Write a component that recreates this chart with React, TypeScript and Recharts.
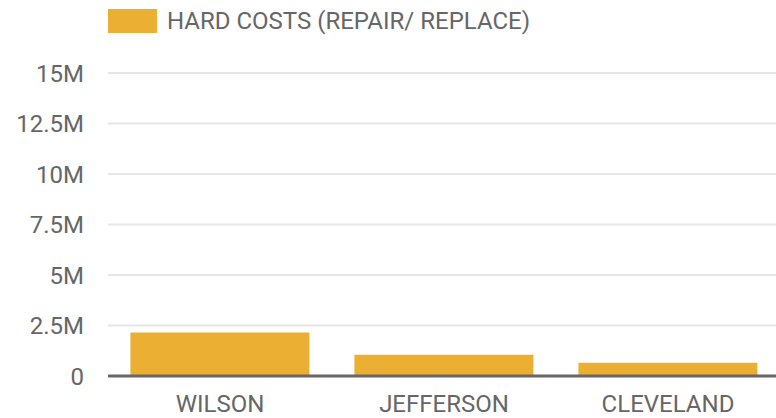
import React from 'react';
import { BarChart, Bar, XAxis, YAxis, CartesianGrid, Legend } from 'recharts';

const categories = ['WILSON', 'JEFFERSON', 'CLEVELAND'];
const hardCosts = [2150000, 1050000, 650000];
const yTicks = [0, 2500000, 5000000, 7500000, 10000000, 12500000, 15000000];
const seriesName = 'HARD COSTS (REPAIR/ REPLACE)';

const data = categories.map((name, i) => ({ name, hard: hardCosts[i] }));

const fmt = (v: number) => (v === 0 ? '0' : `${v / 1000000}M`);

const LegendBox = () => (
  <div style={{ display: 'flex', alignItems: 'center', height: 45, paddingLeft: 108, boxSizing: 'border-box' }}>
    <div style={{ width: 49, height: 24, background: '#EBB033', marginRight: 10, marginTop: -3 }} />
    <span style={{ fontFamily: 'Roboto', fontSize: 24, color: '#666', marginTop: -3 }}>{seriesName}</span>
  </div>
);

export default function App() {
  return (
    <div style={{ position: 'fixed', top: 0, left: 0, width: 776, height: 418, overflow: 'hidden', background: '#fff' }}>
      <BarChart
        width={800}
        height={418}
        data={data}
        margin={{ top: 28, right: 20, bottom: 12, left: 0 }}
        barCategoryGap="10%"
      >
        <Legend verticalAlign="top" align="left" content={<LegendBox />} wrapperStyle={{ left: 0, top: 0, width: 800 }} />
        <CartesianGrid vertical={false} stroke="#e6e6e6" strokeWidth={2} />
        <XAxis
          dataKey="name"
          height={30}
          axisLine={{ stroke: '#666', strokeWidth: 3 }}
          tickLine={false}
          tickSize={0}
          tickMargin={19}
          tick={{ fill: '#666', fontSize: 24, fontFamily: 'Roboto' }}
        />
        <YAxis
          width={108}
          domain={[0, 15000000]}
          ticks={yTicks}
          tickFormatter={fmt}
          axisLine={false}
          tickLine={false}
          tickSize={0}
          tickMargin={24}
          tick={{ fill: '#666', fontSize: 24, fontFamily: 'Roboto' }}
        />
        <Bar dataKey="hard" name={seriesName} fill="#EBB033" isAnimationActive={false} />
      </BarChart>
    </div>
  );
}
